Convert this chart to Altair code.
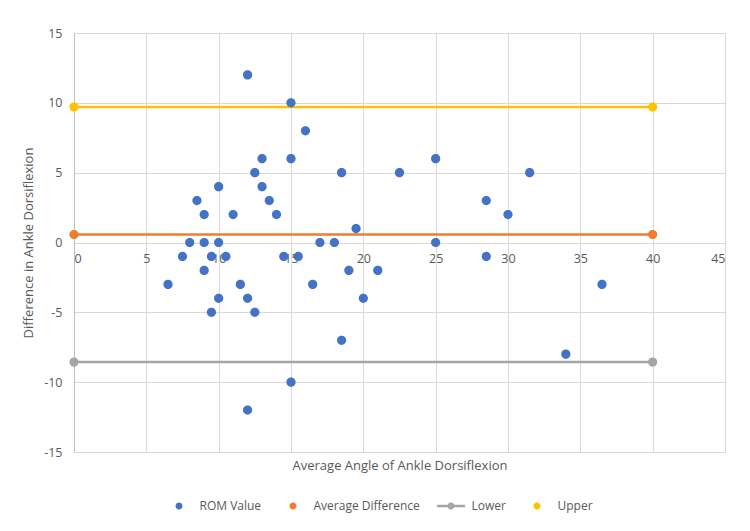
import altair as alt
import pandas as pd

# ROM scatter values (average angle, difference)
avg_angle = [6.5, 7.5, 8, 8.5, 9, 9, 9, 9.5, 9.5, 10, 10, 10, 10.5, 11, 11.5, 12, 12, 12,
             12.5, 12.5, 13, 13, 13.5, 14, 14.5, 15, 15, 15, 15.5, 16, 16.5, 17, 18, 18.5,
             18.5, 19, 19.5, 20, 21, 22.5, 25, 25, 28.5, 28.5, 30, 31.5, 34, 36.5]
difference = [-3, -1, 0, 3, 2, 0, -2, -1, -5, 4, 0, -4, -1, 2, -3, 12, -4, -12,
              5, -5, 6, 4, 3, 2, -1, 10, 6, -10, -1, 8, -3, 0, 0, 5,
              -7, -2, 1, -4, -2, 5, 6, 0, 3, -1, 2, 5, -8, -3]

# Reference lines (value across x from 0 to 40)
line_names = ["Average Difference", "Lower", "Upper"]
line_values = [0.57, -8.56, 9.7]
line_x = [0, 40]

series_domain = ["ROM Value", "Average Difference", "Lower", "Upper"]
series_colors = ["#4472C4", "#ED7D31", "#A5A5A5", "#FFC000"]

dot_path = "M-1,0A1,1 0 1,1 1,0A1,1 0 1,1 -1,0Z"
circle_symbol = "M-4,0L4,0Z " + dot_path
lower_symbol = "M-4,-0.35H4V0.35H-4Z " + dot_path
series_shapes = [circle_symbol, circle_symbol, lower_symbol, circle_symbol]

scatter_df = pd.DataFrame({"x": avg_angle, "y": difference, "series": "ROM Value"})
lines_rows = []
for name, val in zip(line_names, line_values):
    for xv in line_x:
        lines_rows.append({"x": xv, "y": val, "series": name})
lines_df = pd.DataFrame(lines_rows)

font = "Open Sans"
txt = "#595959"

x_scale = alt.Scale(domain=[0, 45], nice=False)
y_scale = alt.Scale(domain=[-15, 15], nice=False)
color_scale = alt.Scale(domain=series_domain, range=series_colors)
shape_scale = alt.Scale(domain=series_domain, range=series_shapes)

x_axis = alt.Axis(values=list(range(0, 50, 5)), grid=True, gridColor="#D9D9D9",
                  domain=False, ticks=False, offset=-210, labelPadding=10,
                  labelFont=font, labelFontSize=12.5, labelColor=txt,
                  title="Average Angle of Ankle Dorsiflexion", titleFont=font,
                  titleFontSize=13, titleColor=txt, titleFontWeight="normal",
                  titleY=223, titleBaseline="middle")
y_axis = alt.Axis(values=list(range(-15, 20, 5)), grid=True, gridColor="#D9D9D9",
                  domain=True, domainColor="#BFBFBF", ticks=False, labelPadding=12,
                  labelExpr="'' + datum.value",
                  labelFont=font, labelFontSize=12.5, labelColor=txt,
                  title="Difference in Ankle Dorsiflexion", titleFont=font,
                  titleFontSize=13, titleColor=txt, titleFontWeight="normal",
                  titleX=-39, titleBaseline="bottom")

lines = alt.Chart(lines_df).mark_line(strokeWidth=2.5).encode(
    x=alt.X("x:Q", scale=x_scale, axis=x_axis),
    y=alt.Y("y:Q", scale=y_scale, axis=y_axis),
    color=alt.Color("series:N", scale=color_scale, legend=None),
    detail="series:N",
)

lower_pts = alt.Chart(lines_df[lines_df.series == "Lower"]).mark_point(
    filled=True, size=85, opacity=1, shape="circle").encode(
    x=alt.X("x:Q", scale=x_scale),
    y=alt.Y("y:Q", scale=y_scale),
    color=alt.Color("series:N", scale=color_scale, legend=None),
)

main_pts_df = pd.concat([scatter_df, lines_df[lines_df.series != "Lower"]], ignore_index=True)
legend = alt.Legend(orient="none", legendX=99, legendY=467, direction="horizontal",
                    title=None, symbolSize=49, labelOffset=14.5, columnPadding=17,
                    labelFont=font, labelFontSize=12, labelColor=txt,
                    symbolOpacity=1, symbolStrokeWidth=0)
main_pts = alt.Chart(main_pts_df).mark_point(filled=True, size=85, opacity=1).encode(
    x=alt.X("x:Q", scale=x_scale),
    y=alt.Y("y:Q", scale=y_scale),
    color=alt.Color("series:N", scale=color_scale, legend=legend),
    shape=alt.Shape("series:N", scale=shape_scale, legend=legend),
)

chart = alt.layer(lines, lower_pts, main_pts).resolve_legend(
    color="independent", shape="independent"
).properties(
    width=651, height=419,
    autosize=alt.AutoSizeParams(type="none"),
    padding={"left": 66, "top": 25, "right": 17, "bottom": 70},
).configure_view(stroke=None).configure(background="white")

chart.save("out.html", embed_options={"renderer": "svg", "actions": False})
